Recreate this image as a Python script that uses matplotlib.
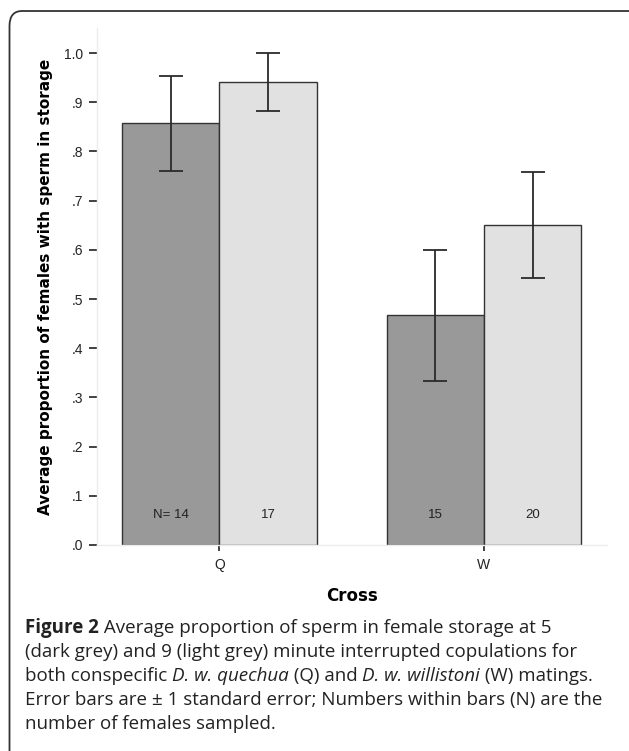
import matplotlib
matplotlib.use("Agg")
import matplotlib.pyplot as plt
from matplotlib.patches import FancyBboxPatch

# bar chart: proportion of females with sperm in storage, 5 vs 9 minute copulations

crosses = ["Q", "W"]
mean_5min = [0.857, 0.467]
mean_9min = [0.941, 0.650]
se_5min = [0.097, 0.133]
se_9min = [0.059, 0.108]
n_5min = ["N= 14", "15"]
n_9min = ["17", "20"]

caption_lines = [
    [("Figure 2", "bold"), (" Average proportion of sperm in female storage at 5", "normal")],
    [("(dark grey) and 9 (light grey) minute interrupted copulations for", "normal")],
    [("both conspecific ", "normal"), ("D. w. quechua", "italic"), (" (Q) and ", "normal"),
     ("D. w. willistoni", "italic"), (" (W) matings.", "normal")],
    [("Error bars are \u00b1 1 standard error; Numbers within bars (N) are the", "normal")],
    [("number of females sampled.", "normal")],
]

W, H = 629, 751
fig = plt.figure(figsize=(W / 100, H / 100), dpi=100)

# rounded frame round the whole figure (runs off right and bottom)
frame = FancyBboxPatch((9.5 / W, -40 / H), 660 / W, (H - 11 + 40) / H,
                       boxstyle="round,pad=0,rounding_size=0.02",
                       transform=fig.transFigure, fill=False,
                       edgecolor="#333333", linewidth=1.3)
fig.patches.append(frame)

ax = fig.add_axes([97 / W, (H - 545) / H, 510 / W, (545 - 28) / H])

bw = 0.368
x = list(range(len(crosses)))
x_left = [i - bw / 2 for i in x]
x_right = [i + bw / 2 for i in x]

err_kw = dict(ecolor="#2b2b2b", elinewidth=1.3, capsize=8.5, capthick=1.3)
ax.bar(x_left, mean_5min, bw, color="#999999", edgecolor="#333333", linewidth=1.0,
       yerr=se_5min, error_kw=err_kw, zorder=2)
ax.bar(x_right, mean_9min, bw, color="#e1e1e1", edgecolor="#333333", linewidth=1.0,
       yerr=se_9min, error_kw=err_kw, zorder=2)

for i in x:
    ax.text(x_left[i], 0.06, n_5min[i], ha="center", va="center",
            fontsize=9.5, family="Liberation Sans", color="#222222")
    ax.text(x_right[i], 0.06, n_9min[i], ha="center", va="center",
            fontsize=9.5, family="Liberation Sans", color="#222222")

ax.set_xlim(-0.462, 1.465)
ax.set_ylim(0, 1.051)
ax.set_yticks([i / 10 for i in range(11)])
ax.set_yticklabels([".0", ".1", ".2", ".3", ".4", ".5", ".6", ".7", ".8", ".9", "1.0"])
ax.set_xticks(x)
ax.set_xticklabels(crosses)

for lab in ax.get_yticklabels() + ax.get_xticklabels():
    lab.set_family("Liberation Sans")
    lab.set_fontsize(10)
    lab.set_color("#222222")

ax.tick_params(axis="y", length=5.8, width=1.3, color="#333333", pad=4)
ax.tick_params(axis="x", length=4.5, width=1.3, color="#333333", pad=5)

for s in ["top", "right"]:
    ax.spines[s].set_visible(False)
for s in ["left", "bottom"]:
    ax.spines[s].set_color("#ececec")
    ax.spines[s].set_linewidth(1.0)

ax.set_ylabel("Average proportion of females with sperm in storage",
              fontweight="bold", fontsize=11, family="DejaVu Sans", labelpad=8)
ax.set_xlabel("Cross", fontweight="bold", fontsize=12, family="DejaVu Sans", labelpad=11)

# caption, drawn piece by piece so bold / italic can be mixed in one line
renderer = fig.canvas.get_renderer()
baselines = [633, 657, 681, 705, 729]
for k, line in enumerate(caption_lines):
    xpos = 25
    for txt, style in line:
        kw = dict(fontsize=13.5, family="Open Sans", color="#222222", va="baseline", ha="left")
        if style == "bold":
            kw["fontweight"] = "bold"
        if style == "italic":
            kw["fontstyle"] = "italic"
        t = fig.text(xpos / W, 1 - baselines[k] / H, txt, **kw)
        bb = t.get_window_extent(renderer=renderer)
        xpos += bb.width

fig.savefig("out.png", dpi=100)
